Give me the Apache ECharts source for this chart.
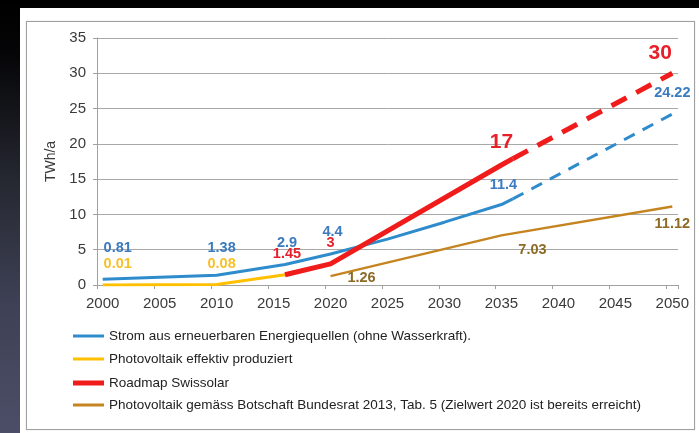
<!DOCTYPE html>
<html><head><meta charset="utf-8">
<script src="https://cdn.jsdelivr.net/npm/echarts@6/dist/echarts.min.js"></script>
<style>
html,body{margin:0;padding:0;width:699px;height:433px;overflow:hidden;
background:linear-gradient(to bottom,#000 0%,#050507 12%,#24262f 40%,#3e4155 70%,#4b4e66 100%);}
#panel{position:absolute;left:20px;top:8px;width:679px;height:425px;background:#fff;}
#frame{position:absolute;left:26px;top:21px;width:667px;height:407px;border:1px solid #a0a0a0;box-shadow:0 0 1px #c8c8c8;}
#chart{position:absolute;left:0;top:0;width:699px;height:433px;}
</style></head><body>
<div id="panel"></div><div id="frame"></div><div id="chart"></div>
<script>
// ---- data ----
const years = [];
for (let y = 2000; y <= 2050; y++) years.push(String(y));
const seriesNames = [
  'Strom aus erneuerbaren Energiequellen (ohne Wasserkraft).',
  'Photovoltaik effektiv produziert',
  'Roadmap Swissolar',
  'Photovoltaik gemäss Botschaft Bundesrat 2013, Tab. 5 (Zielwert 2020 ist bereits erreicht)'
];
const blueYears = ['2000', '2010', '2016', '2020', '2025', '2030', '2035', '2036'];
const blueValues = [0.81, 1.38, 2.9, 4.4, 6.5, 8.9, 11.4, 12.2];
const blueDashYears = ['2036', '2050'];
const blueDashValues = [12.2, 24.22];
const yellowYears = ['2000', '2010', '2016'];
const yellowValues = [0.01, 0.08, 1.45];
const redYears = ['2016', '2020', '2035', '2036'];
const redValues = [1.45, 3, 17, 17.9];
const redDashYears = ['2036', '2050'];
const redDashValues = [17.9, 30];
const brownYears = ['2020', '2035', '2050'];
const brownValues = [1.26, 7.03, 11.12];

// ---- style ----
const FONT = "'Liberation Sans', Arial, sans-serif";
const C_BLUE = '#2f8ccc', C_BLUE_T = '#3a7abf';
const C_YEL = '#ffc000', C_YEL_T = '#f5c02a';
const C_RED = '#f01b1b', C_RED_T = '#e8202a';
const C_BRN = '#c58420', C_BRN_T = '#8c6b26';
const labelOffsets = {
  blue: {'2000': [15, -31], '2010': [5, -27], '2016': [2, -22], '2020': [2, -22], '2035': [2, -20]},
  blueDash: {'2050': [0, -21]},
  yellow: {'2000': [15, -21], '2010': [5, -20]},
  red: {'2016': [2, -21], '2020': [0, -21], '2035': [0, -23]},
  redDash: {'2050': [-12, -20]},
  brown: {'2020': [31, 2], '2035': [31, 15], '2050': [0, 17]}
};
const bigLabel = {'red:2035': 21, 'redDash:2050': 21};

function build(key, xs, vs) {
  return xs.map((x, i) => {
    const off = labelOffsets[key][x];
    const item = {value: [x, vs[i]]};
    if (off) {
      item.label = {show: true, offset: off};
      if (bigLabel[key + ':' + x]) item.label.fontSize = bigLabel[key + ':' + x];
    } else {
      item.label = {show: false};
    }
    return item;
  });
}
function line(name, key, xs, vs, color, tcolor, width, dash, z) {
  return {
    type: 'line', name: name, data: build(key, xs, vs),
    symbol: 'circle', symbolSize: 0, showSymbol: true, showAllSymbol: true,
    itemStyle: {color: color},
    lineStyle: {color: color, width: width, type: dash || 'solid'},
    label: {position: 'inside', align: 'center', verticalAlign: 'middle',
      color: tcolor, fontWeight: 'bold', fontSize: 14.5, fontFamily: FONT},
    emphasis: {disabled: true}, silent: true, z: z, animation: false
  };
}

const chart = echarts.init(document.getElementById('chart'), null, {renderer: 'canvas'});
const legendTops = [329, 352, 376, 398];
const legendThick = [3, 3, 5, 3];
chart.setOption({
  backgroundColor: 'transparent',
  animation: false,
  grid: {left: 97, top: 38, width: 581, height: 247, containLabel: false},
  xAxis: {
    type: 'category', data: years, boundaryGap: true,
    axisLine: {lineStyle: {color: '#a0a0a0', width: 1}},
    axisTick: {show: true, interval: 4, length: 4, lineStyle: {color: '#a0a0a0'}},
    axisLabel: {interval: 4, color: '#3a3a3a', fontSize: 15, fontFamily: FONT, margin: 11},
    splitLine: {show: false}
  },
  yAxis: {
    type: 'value', min: 0, max: 35, interval: 5,
    name: 'TWh/a', nameLocation: 'middle', nameGap: 34,
    nameTextStyle: {color: '#3a3a3a', fontSize: 14, fontFamily: FONT},
    axisLine: {show: true, lineStyle: {color: '#a0a0a0', width: 1}},
    axisTick: {show: true, length: 4, lineStyle: {color: '#a0a0a0'}},
    axisLabel: {color: '#3a3a3a', fontSize: 15, fontFamily: FONT, margin: 11},
    splitLine: {show: true, lineStyle: {color: '#a8a8a8', width: 1}}
  },
  legend: seriesNames.map((n, i) => ({
    data: [n], left: 73, top: legendTops[i], orient: 'vertical', icon: 'rect',
    itemWidth: 31, itemHeight: legendThick[i], padding: 0, itemGap: 0,
    selectedMode: false,
    textStyle: {color: '#222', fontSize: 13.5, fontFamily: FONT}
  })),
  series: [
    line(seriesNames[0], 'blue', blueYears, blueValues, C_BLUE, C_BLUE_T, 3, null, 2),
    line('blueDash', 'blueDash', blueDashYears, blueDashValues, C_BLUE, C_BLUE_T, 3, [12, 9], 2),
    line(seriesNames[1], 'yellow', yellowYears, yellowValues, C_YEL, C_YEL_T, 3, null, 3),
    line(seriesNames[3], 'brown', brownYears, brownValues, C_BRN, C_BRN_T, 2.5, null, 3),
    line(seriesNames[2], 'red', redYears, redValues, C_RED, C_RED_T, 5, null, 4),
    line('redDash', 'redDash', redDashYears, redDashValues, C_RED, C_RED_T, 5, [17, 11], 4)
  ]
});
</script></body></html>
